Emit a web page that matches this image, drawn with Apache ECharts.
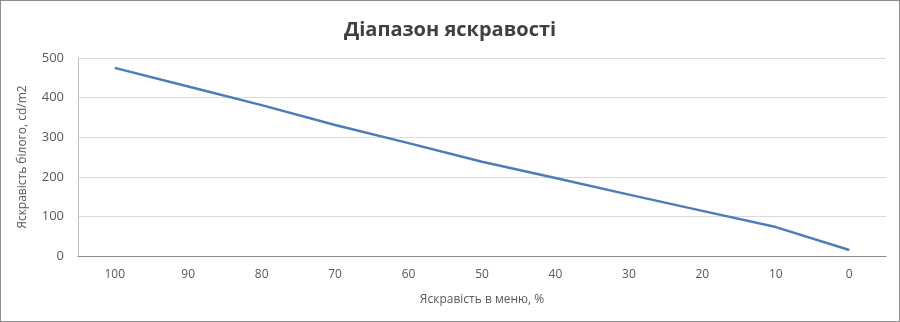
<!DOCTYPE html>
<html><head><meta charset="utf-8">
<script src="https://cdn.jsdelivr.net/npm/echarts@6/dist/echarts.min.js"></script>
<style>html,body{margin:0;padding:0;background:#fff}#c{width:900px;height:322px;box-sizing:border-box;border:1px solid #8c8c8c}</style>
</head><body><div id="c"></div>
<script>
const categories = ['100','90','80','70','60','50','40','30','20','10','0'];
const brightness = [475, 428, 381, 331, 285, 238, 197, 155, 114, 73, 15];
const yTicks = {min: 0, max: 500, interval: 100};
const chart = echarts.init(document.getElementById('c'));
chart.setOption({
  animation: false,
  title: {text: 'Діапазон яскравості', left: 'center', top: 14,
    textStyle: {fontFamily: 'Open Sans', fontWeight: 'bold', fontSize: 20, color: '#404040'}},
  grid: {left: 77, right: 13, top: 57, bottom: 65},
  xAxis: {type: 'category', data: categories, boundaryGap: true,
    name: 'Яскравість в меню, %', nameLocation: 'middle', nameGap: 38,
    nameTextStyle: {fontFamily: 'Open Sans', fontSize: 12, color: '#595959'},
    axisLine: {lineStyle: {color: '#8c8c8c', width: 1}}, axisTick: {show: false},
    axisLabel: {fontFamily: 'Open Sans', fontSize: 12, color: '#595959', margin: 13}},
  yAxis: {type: 'value', min: yTicks.min, max: yTicks.max, interval: yTicks.interval,
    name: 'Яскравість білого, cd/m2', nameLocation: 'middle', nameGap: 49,
    nameTextStyle: {fontFamily: 'Open Sans', fontSize: 12, color: '#595959'},
    axisLine: {show: true, lineStyle: {color: '#bfbfbf'}}, axisTick: {show: false},
    splitLine: {lineStyle: {color: '#d9d9d9'}},
    axisLabel: {fontFamily: 'Open Sans', fontSize: 13, color: '#595959', margin: 14}},
  series: [{type: 'line', data: brightness, symbol: 'none',
    lineStyle: {color: '#4a7ebb', width: 2.5}}]
});
</script></body></html>
